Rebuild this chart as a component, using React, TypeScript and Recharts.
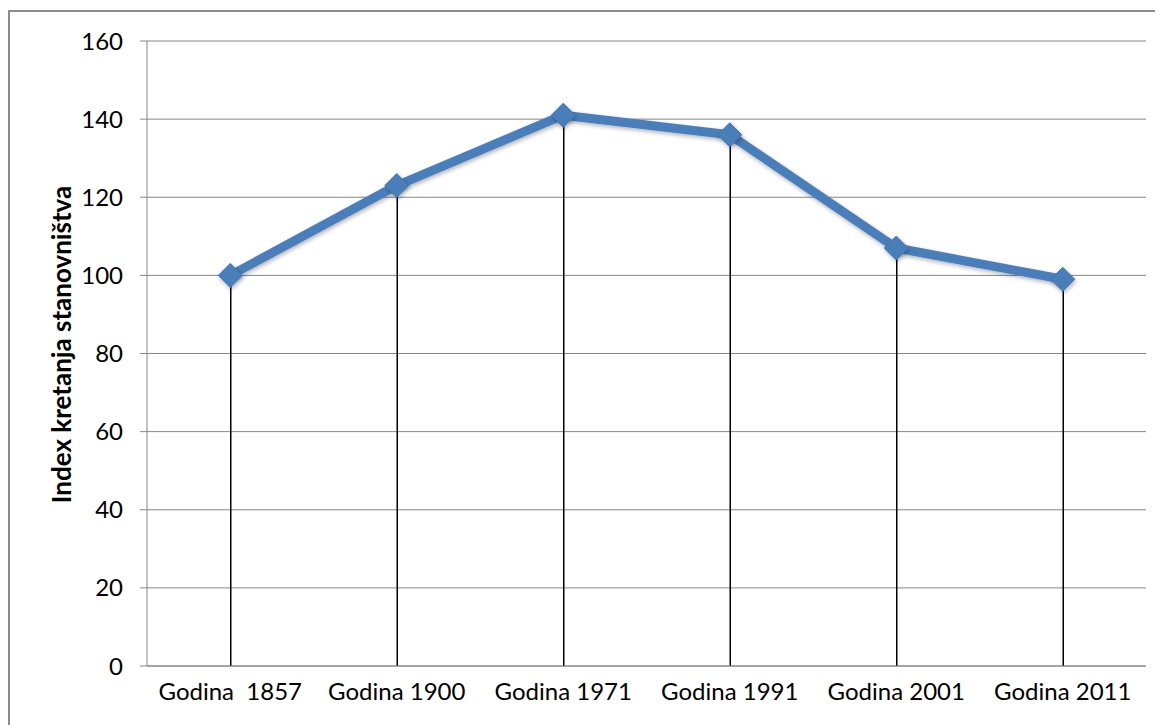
import React from 'react';
import { ComposedChart, Line, Bar, XAxis, YAxis, CartesianGrid } from 'recharts';

const categories = ['Godina\u00A0 1857', 'Godina 1900', 'Godina 1971', 'Godina 1991', 'Godina 2001', 'Godina 2011'];
const indexValues = [100, 123, 141, 136, 107, 99];
const yTicks = [0, 20, 40, 60, 80, 100, 120, 140, 160];

const data = categories.map((c, i) => ({ name: c, value: indexValues[i] }));

const FONT = 'Lato, "Open Sans", sans-serif';
const LINE_COLOR = '#4A7EBB';

const Diamond = (props: any) => {
  const { cx, cy } = props;
  if (cx == null || cy == null) return null;
  const r = 12;
  return (
    <path
      d={`M${cx},${cy - r} L${cx + r},${cy} L${cx},${cy + r} L${cx - r},${cy} Z`}
      fill={LINE_COLOR}
      stroke="#4177B5"
      strokeWidth={1}
      filter="url(#shadow)"
    />
  );
};

const YLabel = (props: any) => {
  const vb = props.viewBox || {};
  const x = (vb.x ?? 0) + 51;
  const y = (vb.y ?? 0) + (vb.height ?? 0) / 2 - 9;
  return (
    <text
      x={x}
      y={y}
      transform={`rotate(-90, ${x}, ${y})`}
      textAnchor="middle"
      dominantBaseline="central"
      fontFamily={FONT}
      fontWeight={700}
      fontSize={26}
      fill="#000"
    >
      Index kretanja stanovništva
    </text>
  );
};

export default function App() {
  return (
    <div
      style={{
        marginTop: 2,
        width: 1160,
        height: 715,
        borderTop: '2px solid #8c8c8c',
        borderLeft: '2px solid #8c8c8c',
        background: '#fff',
        position: 'relative',
      }}
    >
      <ComposedChart
        width={1153}
        height={713}
        data={data}
        margin={{ top: 29, right: 17, left: 0, bottom: 0 }}
        style={{ fontFamily: FONT }}
      >
        <defs>
          <filter id="shadow" x="-50%" y="-50%" width="200%" height="200%">
            <feDropShadow dx="1" dy="2" stdDeviation="2" floodColor="#000" floodOpacity="0.3" />
          </filter>
        </defs>
        <CartesianGrid vertical={false} stroke="#868686" strokeWidth={1} />
        <XAxis
          dataKey="name"
          height={59}
          tickLine={false}
          axisLine={{ stroke: '#868686' }}
          tickMargin={11}
          tick={{ fill: '#000', fontSize: 24, fontFamily: FONT }}
          interval={0}
        />
        <YAxis
          width={137}
          domain={[0, 160]}
          ticks={yTicks}
          tickSize={7}
          tickMargin={17}
          tickLine={{ stroke: '#868686' }}
          axisLine={{ stroke: '#868686' }}
          tick={{ fill: '#000', fontSize: 24, fontFamily: FONT }}
          label={<YLabel />}
          interval={0}
        />
        <Bar dataKey="value" barSize={1.5} fill="#000" isAnimationActive={false} />
        <Line
          dataKey="value"
          type="linear"
          stroke={LINE_COLOR}
          strokeWidth={9}
          strokeLinejoin="round"
          dot={<Diamond />}
          activeDot={false}
          filter="url(#shadow)"
          isAnimationActive={false}
        />
      </ComposedChart>
    </div>
  );
}
